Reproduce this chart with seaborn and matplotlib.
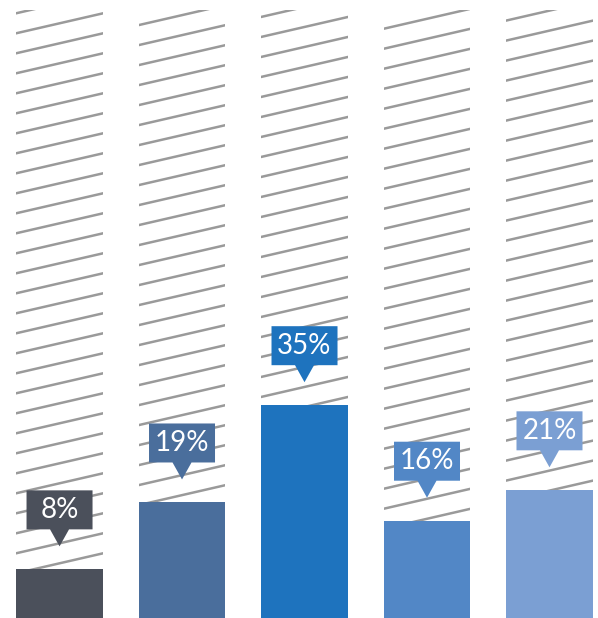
import matplotlib
matplotlib.use("Agg")
import matplotlib.pyplot as plt
from matplotlib.patches import Polygon
from matplotlib.lines import Line2D
import seaborn as sns
import pandas as pd

# Data
categories = ["A", "B", "C", "D", "E"]
values = [8, 19, 35, 16, 21]
labels = ["8%", "19%", "35%", "16%", "21%"]
colors = ["#4b505b", "#4a6e9c", "#1e73be", "#5287c6", "#7b9fd3"]
full_scale = [100] * len(categories)

df = pd.DataFrame({"cat": categories, "value": values, "full": full_scale})

W, H, DPI = 598, 618, 100
fig = plt.figure(figsize=(W / DPI, H / DPI), dpi=DPI)
ax = fig.add_axes([0, 0, 1, 1])

xmin, xmax = -0.486, 4.396
ymin, ymax = 0, 101.64
XU = W / (xmax - xmin)   # pixels per x unit
YU = H / (ymax - ymin)   # pixels per y unit

bar_w = 0.706

# Background columns (full height, white, striped below)
sns.barplot(data=df, x="cat", y="full", color="white", width=bar_w,
            saturation=1, ax=ax, zorder=1)
bg_patches = list(ax.containers[0])

# Value bars
sns.barplot(data=df, x="cat", y="value", hue="cat", palette=colors,
            width=bar_w, saturation=1, legend=False, ax=ax, zorder=3)

ax.set_xlim(xmin, xmax)
ax.set_ylim(ymin, ymax)
ax.set_axis_off()

# Diagonal stripes clipped to each background column
slope = 0.23
spacing = 20
phase = 17
for p in bg_patches:
    for k in range(-10, 60):
        c = phase + k * spacing
        x0, x1 = 0, W
        y0_top, y1_top = c - slope * x0, c - slope * x1
        xd0, yd0 = xmin + x0 / XU, ymax - y0_top / YU
        xd1, yd1 = xmin + x1 / XU, ymax - y1_top / YU
        ln = Line2D([xd0, xd1], [yd0, yd1], color="#9a9a9a", lw=1.8,
                    zorder=2, solid_capstyle="butt")
        ax.add_line(ln)
        ln.set_clip_path(p)

# Callout labels
box_w, box_h = 66, 39
tri_w, tri_h = 19, 17
gap = 23
for i, (v, lab, col) in enumerate(zip(values, labels, colors)):
    tip_y = v + gap / YU
    base_y = tip_y + tri_h / YU
    top_y = base_y + box_h / YU
    hw = box_w / 2 / XU
    tw = tri_w / 2 / XU
    poly = Polygon([(i - hw, base_y), (i - tw, base_y), (i, tip_y),
                    (i + tw, base_y), (i + hw, base_y), (i + hw, top_y),
                    (i - hw, top_y)], closed=True, facecolor=col,
                   edgecolor="none", zorder=4)
    ax.add_patch(poly)
    ax.text(i, (base_y + top_y) / 2, lab, ha="center", va="center",
            color="white", fontsize=20, fontweight="normal",
            family=["Lato", "DejaVu Sans"], zorder=5)

fig.savefig("out.png", dpi=DPI, facecolor="white")
